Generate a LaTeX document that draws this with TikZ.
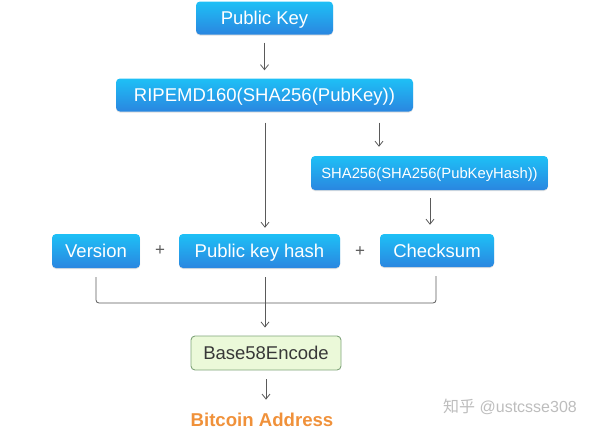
\documentclass[tikz,border=0pt]{standalone}
\usepackage{fontspec}
\setmainfont{Liberation Sans}
\newfontfamily\cjkfont{Noto Sans CJK SC}
\usetikzlibrary{shadows,arrows.meta}
\definecolor{blueT}{HTML}{1EC0F6}
\definecolor{blueB}{HTML}{2A86E0}
\definecolor{greenF}{HTML}{EBF9D9}
\definecolor{greenD}{HTML}{7FA479}
\definecolor{lineC}{HTML}{5A5A5A}
\definecolor{orangeC}{HTML}{F0913A}
\definecolor{wmC}{HTML}{BDBDBD}
\tikzset{
  bluebox/.style={rounded corners=4pt, top color=blueT, bottom color=blueB, draw=none,
    text=white, inner sep=0pt, minimum height=33pt,
    text height=13.2pt, text depth=0pt,
    font=\fontsize{18.5}{22}\selectfont,
    drop shadow={shadow xshift=0pt, shadow yshift=-1pt, opacity=0.25}},
  greenbox/.style={rounded corners=4pt, fill=greenF, draw=greenD, line width=0.9pt,
    text=black!78, inner sep=0pt, minimum height=34pt, minimum width=150pt,
    text height=13.2pt, text depth=0pt,
    font=\fontsize{18.5}{22}\selectfont},
  conn/.style={draw=lineC, line width=0.8pt},
  arr/.style={conn, -{Straight Barb[length=5pt,width=8pt]}},
  plus/.style={text=lineC, font=\fontsize{17}{20}\selectfont}
}
\begin{document}
\begin{tikzpicture}[x=1pt,y=-1pt]
\useasboundingbox (0,0) rectangle (600,432);
\node[bluebox, minimum width=137pt] (pub) at (264.5,18) {Public Key};
\node[bluebox, minimum width=297pt] (rip) at (264.5,95) {RIPEMD160(SHA256(PubKey))};
\node[bluebox, minimum width=237pt, minimum height=34pt, text height=10.6pt, font=\fontsize{14.8}{18}\selectfont] (sha) at (429.5,173) {SHA256(SHA256(PubKeyHash))};
\node[bluebox, minimum width=88pt, minimum height=34pt] (ver) at (96,251) {Version};
\node[bluebox, minimum width=161pt, minimum height=34pt] (pkh) at (259.5,251) {Public key hash};
\node[bluebox, minimum width=114pt, minimum height=33pt] (chk) at (437,250.5) {Checksum};
\node[plus] (p1) at (160,251) {+};
\node[plus] (p2) at (360,252) {+};
\node[greenbox] (b58) at (266,353) {Base58Encode};
\node[text=orangeC, font=\bfseries\fontsize{18.6}{22}\selectfont] (btc) at (262,420) {Bitcoin Address};
\node[text=wmC, font=\fontsize{16}{20}\selectfont] (wm) at (510,407) {{\cjkfont 知乎} @ustcsse308};
\coordinate (cx) at (265,0);
\coordinate (sx) at (379,0);
\coordinate (hx) at (430,0);
\coordinate (mx) at (436,0);
\draw[arr, shorten <=8pt, shorten >=8pt] (pub.south) -- (pub.south |- rip.north);
\draw[arr, shorten <=11pt, shorten >=9pt] (sx |- rip.south) -- (sx |- sha.north);
\draw[arr, shorten <=8pt, shorten >=9pt] (hx |- sha.south) -- (hx |- chk.north);
\draw[arr, shorten <=11pt, shorten >=6pt] (cx |- rip.south) -- (cx |- pkh.north);
\draw[conn, rounded corners=3pt] ([yshift=-9pt]ver.south) |- (mx |- 0,303) -- ([yshift=-9pt]mx |- chk.south);
\draw[arr, shorten <=9pt, shorten >=8pt] (cx |- pkh.south) -- (cx |- b58.north);
\draw[arr, shorten <=9pt] (b58.south) -- ([yshift=10pt]b58.south |- btc.north);
\end{tikzpicture}
\end{document}
